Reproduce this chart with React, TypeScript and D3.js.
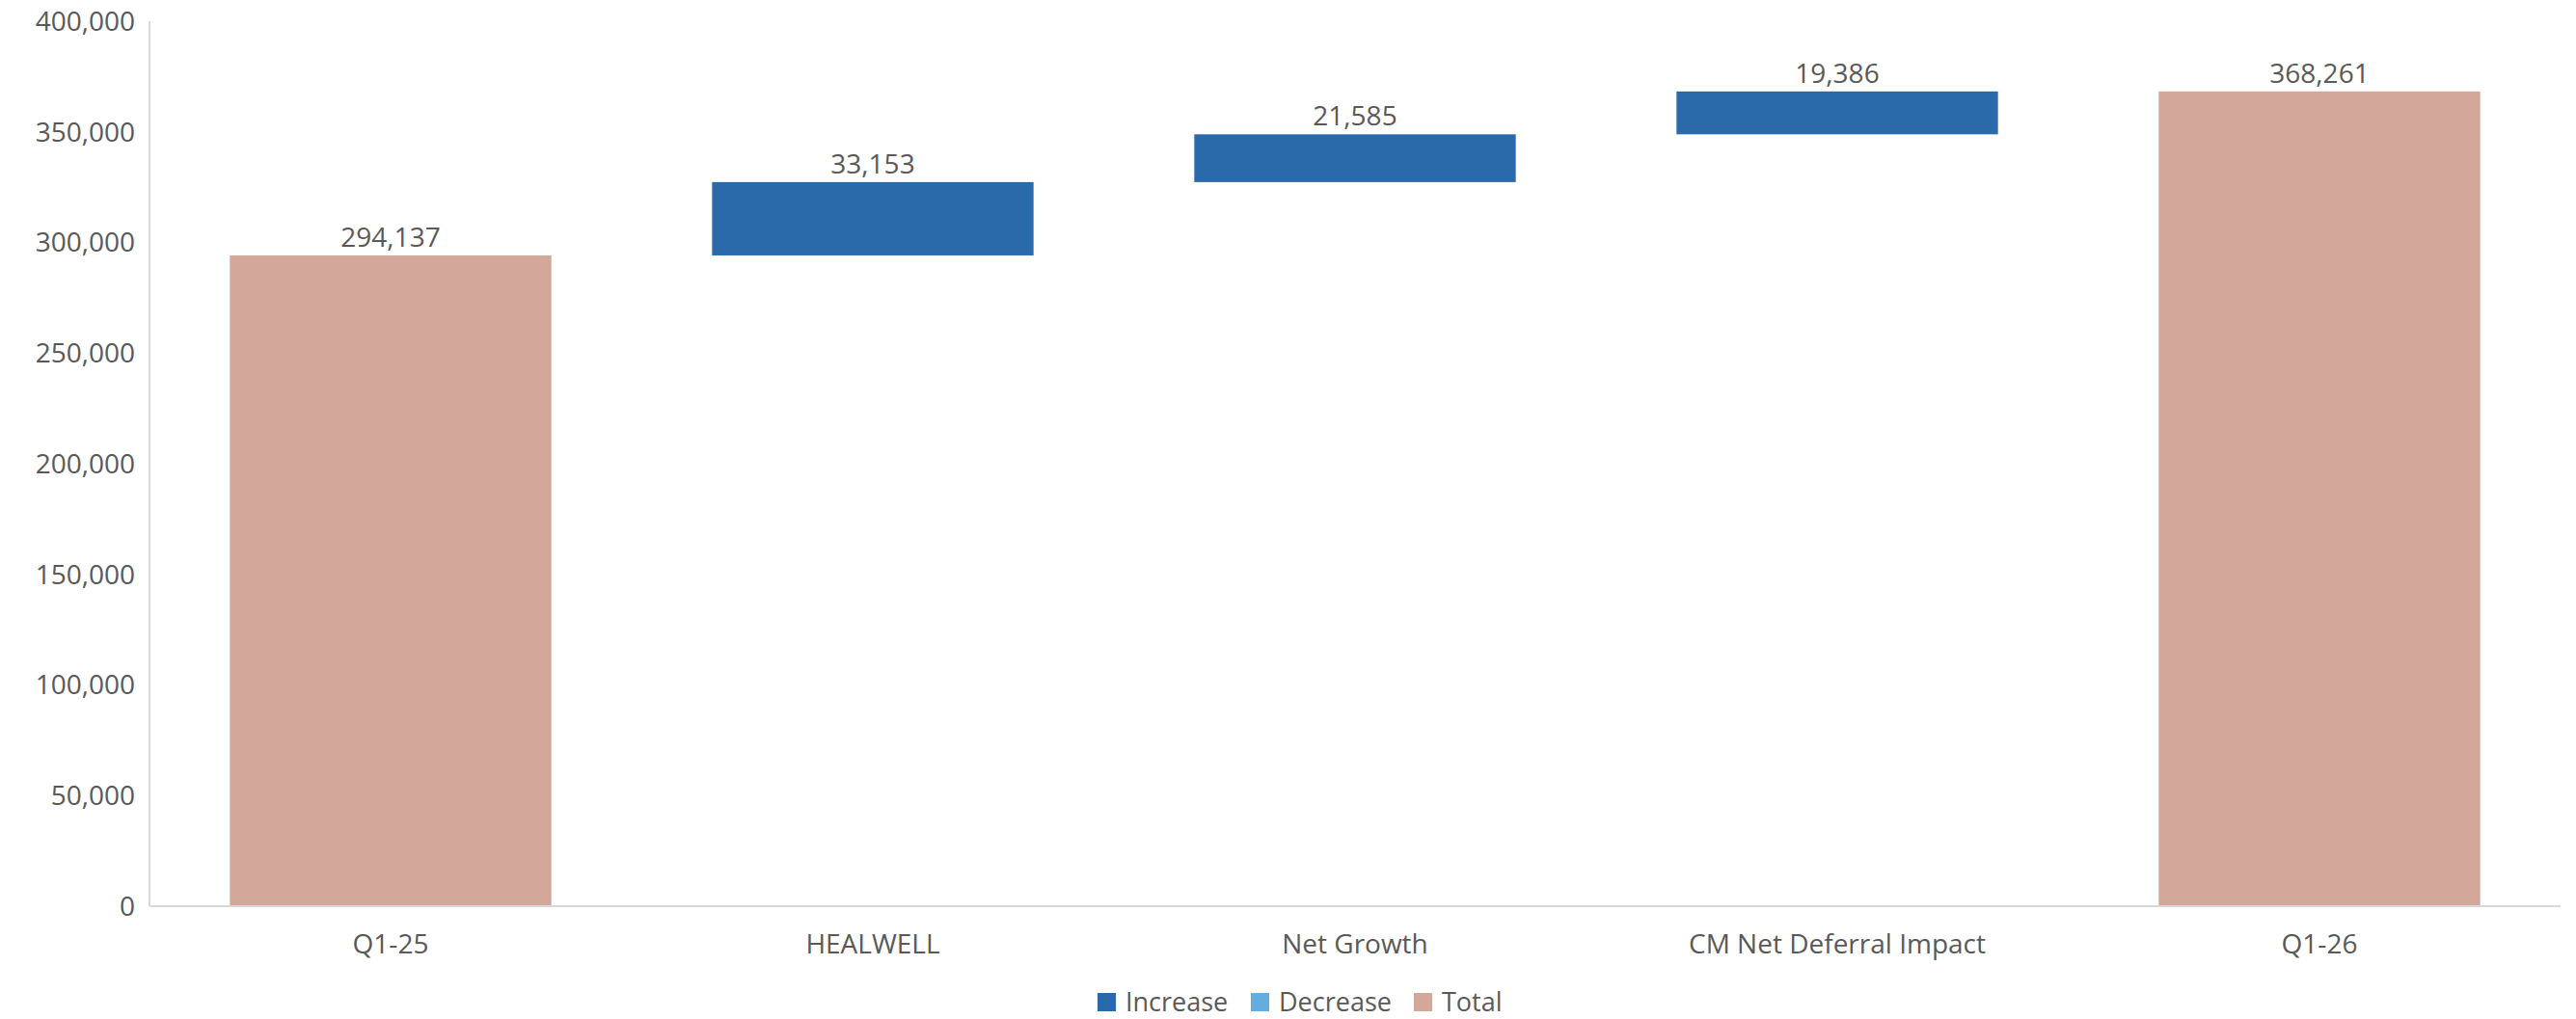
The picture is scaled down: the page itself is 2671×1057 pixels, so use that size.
import React, { useEffect, useRef } from "react";
import * as d3 from "d3";

const categories = ["Q1-25", "HEALWELL", "Net Growth", "CM Net Deferral Impact", "Q1-26"];
const values = [294137, 33153, 21585, 19386, 368261];
const kinds = ["total", "increase", "increase", "increase", "total"];
const yTicks = [0, 50000, 100000, 150000, 200000, 250000, 300000, 350000, 400000];
const legendItems = ["Increase", "Decrease", "Total"];

const W = 2671;
const H = 1057;
const COLORS: Record<string, string> = {
  increase: "#2a6aaa",
  decrease: "#65acdf",
  total: "#d3a79a",
};
const TEXT = "#595959";
const FONT = "'Open Sans', 'Noto Sans', sans-serif";

export default function App() {
  const ref = useRef<SVGSVGElement>(null);
  useEffect(() => {
    document.body.style.margin = "0";
    const svg = d3.select(ref.current);
    svg.selectAll("*").remove();

    const left = 155, right = 2655, top = 22, bottom = 940;
    const x = d3.scaleBand().domain(categories).range([left, right]).paddingInner(1 / 3).paddingOuter(1 / 6);
    const y = d3.scaleLinear().domain([0, 400000]).range([bottom, top]);

    let running = 0;
    const segs = categories.map((c, i) => {
      const v = values[i];
      const k = kinds[i];
      let y0: number, y1: number;
      if (k === "total") {
        y0 = 0; y1 = v; running = v;
      } else if (k === "increase") {
        y0 = running; y1 = running + v; running += v;
      } else {
        y0 = running - v; y1 = running; running -= v;
      }
      return { c, v, k, y0, y1 };
    });

    const fmt = d3.format(",");
    svg.append("g").selectAll("text").data(yTicks).join("text")
      .attr("x", 140).attr("y", (d) => y(d)).attr("dy", "0.35em")
      .attr("text-anchor", "end").attr("fill", TEXT)
      .style("font-family", FONT).style("font-size", "28px")
      .text((d) => fmt(d));

    svg.append("g").selectAll("rect").data(segs).join("rect")
      .attr("x", (d) => x(d.c)!).attr("width", x.bandwidth())
      .attr("y", (d) => y(d.y1)).attr("height", (d) => y(d.y0) - y(d.y1))
      .attr("fill", (d) => COLORS[d.k]);

    svg.append("line").attr("x1", left).attr("x2", left).attr("y1", top).attr("y2", bottom)
      .attr("stroke", "#d9d9d9").attr("stroke-width", 2);
    svg.append("line").attr("x1", left).attr("x2", right).attr("y1", bottom).attr("y2", bottom)
      .attr("stroke", "#d9d9d9").attr("stroke-width", 2);

    svg.append("g").selectAll("text").data(segs).join("text")
      .attr("x", (d) => x(d.c)! + x.bandwidth() / 2).attr("y", (d) => y(d.y1) - 9)
      .attr("text-anchor", "middle").attr("fill", TEXT)
      .style("font-family", FONT).style("font-size", "28px")
      .text((d) => fmt(d.v));

    svg.append("g").selectAll("text").data(categories).join("text")
      .attr("x", (d) => x(d)! + x.bandwidth() / 2).attr("y", 979).attr("dy", "0.35em")
      .attr("text-anchor", "middle").attr("fill", TEXT)
      .style("font-family", FONT).style("font-size", "28px")
      .text((d) => d);

    const legX = [1138, 1297, 1466];
    const lkeys = ["increase", "decrease", "total"];
    const lg = svg.append("g");
    legendItems.forEach((name, i) => {
      lg.append("rect").attr("x", legX[i]).attr("y", 1030).attr("width", 19).attr("height", 19)
        .attr("fill", COLORS[lkeys[i]]);
      lg.append("text").attr("x", legX[i] + 29).attr("y", 1049)
        .attr("fill", TEXT).style("font-family", FONT).style("font-size", "27px")
        .text(name);
    });
  }, []);
  return <svg ref={ref} width={W} height={H} style={{ display: "block", background: "#fff" }} />;
}
